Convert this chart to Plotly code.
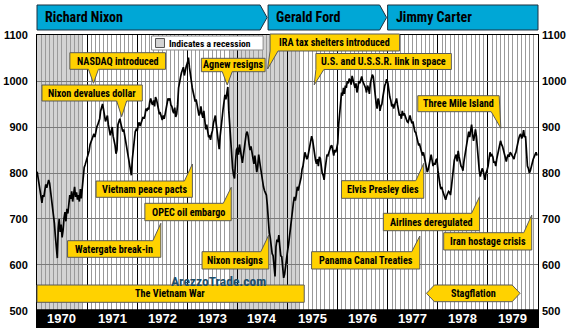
import plotly.graph_objects as go
import pandas as pd

# ---------------- data ----------------
years = list(range(1970, 1980))
dow_1970 = [803, 790, 772, 758, 744, 735, 752, 748, 762, 775, 768, 782, 785, 778, 760, 748, 735,
            712, 690, 662, 640, 615, 680, 700, 672, 688, 660, 675, 702, 715, 695, 722, 712, 740,
            752, 744, 760, 738, 755, 770, 748, 758, 742, 752, 738, 765, 745, 775, 805, 812, 818, 825]
dow_1971 = [830, 838, 848, 862, 868, 872, 880, 885, 878, 892, 900, 905, 912, 918, 935, 945, 950,
            938, 925, 912, 918, 925, 905, 895, 882, 890, 900, 880, 872, 860, 842, 850, 905, 912,
            918, 908, 898, 890, 895, 882, 870, 858, 845, 835, 818, 800, 795, 830, 855, 872, 890, 895]
dow_1972 = [892, 905, 910, 902, 908, 915, 922, 918, 925, 940, 935, 942, 938, 955, 962, 952, 948,
            958, 945, 965, 960, 950, 935, 928, 930, 922, 915, 925, 918, 928, 940, 955, 962, 958,
            962, 948, 945, 935, 930, 942, 922, 928, 948, 985, 1000, 1008, 1018, 1025, 1030, 1012, 1025, 1032]
dow_1973 = [1040, 1051, 1030, 1012, 998, 985, 975, 962, 955, 960, 948, 940, 925, 930, 945, 928, 920,
            935, 912, 895, 905, 890, 878, 880, 872, 885, 892, 908, 918, 925, 905, 888, 862, 852,
            880, 895, 918, 938, 955, 970, 960, 978, 987, 935, 900, 868, 845, 810, 795, 788, 825, 850]
dow_1974 = [855, 840, 862, 850, 830, 822, 838, 855, 870, 885, 890, 880, 862, 850, 858, 845, 835,
            820, 838, 815, 802, 815, 840, 825, 808, 795, 785, 770, 762, 758, 752, 730, 690, 670,
            660, 640, 625, 620, 585, 575, 640, 655, 650, 665, 640, 620, 618, 590, 572, 580, 600, 616]
dow_1975 = [632, 645, 665, 690, 703, 715, 735, 748, 740, 752, 770, 762, 770, 780, 790, 808, 815,
            830, 845, 838, 830, 835, 845, 862, 870, 880, 872, 858, 835, 828, 820, 830, 815, 835,
            832, 815, 800, 795, 785, 808, 830, 840, 838, 845, 852, 858, 860, 845, 838, 850, 845, 852]
dow_1976 = [865, 905, 935, 960, 975, 968, 985, 972, 990, 985, 1000, 995, 1005, 1002, 992, 1011, 1000,
            990, 985, 995, 975, 985, 1000, 995, 1005, 1010, 1000, 995, 990, 985, 975, 990, 985, 972,
            995, 1005, 1014, 1010, 985, 960, 952, 940, 962, 955, 935, 945, 950, 965, 985, 990, 995, 1004]
dow_1977 = [995, 975, 965, 958, 945, 950, 940, 948, 955, 962, 948, 935, 925, 928, 918, 935, 925,
            930, 922, 915, 912, 910, 918, 925, 915, 908, 912, 900, 890, 888, 878, 870, 860, 862,
            855, 845, 838, 845, 835, 822, 812, 802, 808, 818, 830, 840, 828, 815, 822, 818, 828, 831]
dow_1978 = [805, 785, 775, 765, 770, 760, 752, 745, 742, 750, 755, 760, 758, 752, 770, 795, 812,
            828, 835, 840, 825, 848, 835, 820, 815, 812, 805, 825, 840, 850, 870, 885, 890, 878,
            900, 905, 885, 870, 880, 895, 880, 850, 820, 805, 792, 800, 810, 805, 795, 785, 800, 805]
dow_1979 = [815, 830, 845, 838, 840, 835, 822, 825, 815, 830, 845, 850, 860, 870, 862, 858, 850,
            840, 830, 825, 835, 840, 835, 845, 842, 838, 835, 830, 840, 845, 855, 870, 875, 882,
            885, 875, 880, 893, 878, 880, 850, 815, 810, 800, 805, 815, 822, 830, 835, 842, 845, 838]
dow_by_year = [dow_1970, dow_1971, dow_1972, dow_1973, dow_1974,
               dow_1975, dow_1976, dow_1977, dow_1978, dow_1979]

recession_starts = ["1969-12-01", "1973-11-01"]
recession_ends = ["1970-11-30", "1975-03-31"]

presidents = ["Richard Nixon", "Gerald Ford", "Jimmy Carter"]
year_labels = [str(y) for y in years]
y_ticks = [500, 600, 700, 800, 900, 1000, 1100]

events = ["NASDAQ introduced", "Nixon devalues dollar", "Agnew resigns",
          "IRA tax shelters introduced", "U.S. and U.S.S.R. link in space",
          "Three Mile Island", "Vietnam peace pacts", "OPEC oil embargo",
          "Watergate break-in", "Nixon resigns", "Elvis Presley dies",
          "Airlines deregulated", "Iran hostage crisis", "Panama Canal Treaties"]

# ---------------- layout geometry (pixels) ----------------
W, H = 583, 330
L, R, T, B = 35, 538, 35, 327
YMIN, YMAX = 465.2, 1100

def P(x, y):
    return f"{(x - L) / (R - L):.5f},{(B - y) / (B - T):.5f}"

def poly(pts):
    return "M" + " L".join(P(x, y) for x, y in pts) + " Z"

def fx(x):
    return (x - L) / (R - L)

def fy(y):
    return (B - y) / (B - T)

# event boxes: (x0, y0, x1, y1, tail kind, tip x, tip y)
event_boxes = [
    (68, 52.7, 164, 69.3, "bottom", 91.7, 83.3),
    (40, 85, 140.7, 101, "bottom", 120, 116.7),
    (200, 58.3, 264, 71.7, "bottom", 226, 85),
    (269, 34, 399, 51, "bl", 266.5, 69),
    (315, 53.5, 451, 69.5, "bl", 313.3, 85),
    (417.3, 95.7, 499, 111.7, "br", 500.7, 128.3),
    (94.3, 181, 191, 197.3, "tr", 191, 164),
    (143.3, 203.3, 230, 220.7, "tr", 230, 187.3),
    (65.7, 240.7, 159.3, 257.3, "tr", 159.3, 223.3),
    (200.7, 251.7, 267.7, 269, "tr", 267.7, 235),
    (340.7, 180.7, 423.3, 198.3, "tr", 423.3, 163.3),
    (382.7, 213.3, 479.3, 230.7, "tr", 479.3, 196.7),
    (443.3, 232.7, 531.7, 250, "tr", 531.7, 215),
    (310.7, 251.7, 419.3, 269, "tr", 419.3, 236),
]

YELLOW = "#FFD200"
EDGE = "#5a5a5a"
NARROW = "Roboto Condensed, Liberation Sans Narrow, Roboto, sans-serif"
LBL = 10.2

# ---------------- figure ----------------
dates, vals = [], []
for y, v in zip(years, dow_by_year):
    d = pd.date_range(f"{y}-01-02", periods=len(v), freq="7D")
    dates += list(d)
    vals += v

fig = go.Figure()
fig.add_trace(go.Scatter(x=dates, y=vals, mode="lines",
                         line=dict(color="black", width=1.7), hoverinfo="skip"))
fig.add_trace(go.Scatter(x=[dates[0]], y=[vals[0]], yaxis="y2", mode="markers",
                         marker=dict(opacity=0), hoverinfo="skip"))

shapes = []
for s, e in zip(recession_starts, recession_ends):
    shapes.append(dict(type="rect", xref="x", yref="paper", x0=s, x1=e, y0=0, y1=1,
                       fillcolor="#d3d3d3", line=dict(width=0), layer="below"))

# bottom black band
shapes.append(dict(type="rect", xref="paper", yref="y", x0=0, x1=1, y0=YMIN, y1=504,
                   fillcolor="black", line=dict(width=0), layer="above"))

# president banners
ban = [
    [(35, 5), (259, 5), (266, 17.5), (259, 30), (35, 30)],
    [(267, 5), (379, 5), (386, 17.5), (379, 30), (267, 30)],
    [(387, 5), (538, 5), (538, 30), (387, 30)],
]
for pts in ban:
    shapes.append(dict(type="path", xref="paper", yref="paper", path=poly(pts),
                       fillcolor="#00A7D6", line=dict(color="#1d3140", width=1), layer="above"))

# legend box
shapes.append(dict(type="rect", xref="paper", yref="paper", x0=fx(150), x1=fx(262),
                   y0=fy(50), y1=fy(36), fillcolor="white", line=dict(color="#8a8a8a", width=1),
                   layer="above"))
shapes.append(dict(type="rect", xref="paper", yref="paper", x0=fx(154), x1=fx(163),
                   y0=fy(47.5), y1=fy(38.5), fillcolor="#d3d3d3", line=dict(color="#555", width=1),
                   layer="above"))

# event boxes with tails
for (x0, y0, x1, y1, kind, tx, ty) in event_boxes:
    if kind == "bottom":
        pts = [(x0, y0), (x1, y0), (x1, y1), (tx + 5, y1), (tx, ty), (tx - 5, y1), (x0, y1)]
    elif kind == "tr":
        pts = [(x0, y0), (x1 - 8, y0), (tx, ty), (x1, y1), (x0, y1)]
    elif kind == "bl":
        pts = [(x0, y0), (x1, y0), (x1, y1), (x0 + 8, y1), (tx, ty), (x0, y1)]
    else:  # br
        pts = [(x0, y0), (x1, y0), (tx, ty), (x1 - 8, y1), (x0, y1)]
    shapes.append(dict(type="path", xref="paper", yref="paper", path=poly(pts),
                       fillcolor=YELLOW, line=dict(color=EDGE, width=1), layer="above"))

# Vietnam war bar
shapes.append(dict(type="rect", xref="paper", yref="paper", x0=fx(35), x1=fx(303.3),
                   y0=fy(302.3), y1=fy(285), fillcolor=YELLOW, line=dict(color=EDGE, width=1),
                   layer="above"))
# Stagflation double arrow
shapes.append(dict(type="path", xref="paper", yref="paper",
                   path=poly([(426, 293.3), (434, 285), (512, 285), (520, 293.3), (512, 301.7), (434, 301.7)]),
                   fillcolor=YELLOW, line=dict(color=EDGE, width=1), layer="above"))

annotations = []
ban_text_x = [41, 273, 393]
for name, x in zip(presidents, ban_text_x):
    annotations.append(dict(xref="paper", yref="paper", x=fx(x), y=fy(17.5), text=name,
                            xanchor="left", yanchor="middle", showarrow=False,
                            font=dict(family=NARROW, size=14, color="black", weight="bold")))
for lab, y in zip(year_labels, years):
    annotations.append(dict(xref="x", yref="y", x=f"{y}-07-02", y=484, text=lab,
                            xanchor="center", yanchor="middle", showarrow=False,
                            font=dict(family="Liberation Sans, Arial, sans-serif", size=13,
                                      color="white", weight="bold")))
for txt, (x0, y0, x1, y1, kind, tx, ty) in zip(events, event_boxes):
    annotations.append(dict(xref="paper", yref="paper", x=fx((x0 + x1) / 2), y=fy((y0 + y1) / 2),
                            text=txt, xanchor="center", yanchor="middle", showarrow=False,
                            font=dict(family=NARROW, size=LBL, color="black", weight="bold")))
annotations.append(dict(xref="paper", yref="paper", x=fx(166), y=fy(43), text="Indicates a recession",
                        xanchor="left", yanchor="middle", showarrow=False,
                        font=dict(family=NARROW, size=9.6, color="black", weight="bold")))
annotations.append(dict(xref="paper", yref="paper", x=fx(169), y=fy(293.6), text="The Vietnam War",
                        xanchor="center", yanchor="middle", showarrow=False,
                        font=dict(family=NARROW, size=LBL, color="black", weight="bold")))
annotations.append(dict(xref="paper", yref="paper", x=fx(473), y=fy(293.3), text="Stagflation",
                        xanchor="center", yanchor="middle", showarrow=False,
                        font=dict(family=NARROW, size=LBL, color="black", weight="bold")))
annotations.append(dict(xref="paper", yref="paper", x=fx(217), y=fy(280.5), text="ArezzoTrade.com",
                        xanchor="center", yanchor="middle", showarrow=False,
                        font=dict(family=NARROW, size=13.5, color="#1d4f6b", weight="bold")))

tick_font = dict(family="Liberation Sans, Arial, sans-serif", size=11, color="black", weight="bold")
fig.update_layout(
    width=W, height=H, autosize=False,
    margin=dict(l=L, r=W - R, t=T, b=H - B, pad=0),
    paper_bgcolor="white", plot_bgcolor="white",
    showlegend=False,
    xaxis=dict(type="date", range=["1970-01-01", "1980-01-01"], showticklabels=False,
               showgrid=True, gridcolor="black", gridwidth=1, dtick="M12", tick0="1970-01-01",
               ticks="", minor=dict(showgrid=True, gridcolor="#9a9a9a", gridwidth=1, dtick="M1",
                                    tick0="1970-01-01"),
               showline=True, linecolor="black", linewidth=1, mirror=True, zeroline=False),
    yaxis=dict(range=[YMIN, YMAX], tickvals=y_ticks, ticktext=[str(v) for v in y_ticks],
               showgrid=True, gridcolor="#7a7a7a", gridwidth=1, ticks="", tickfont=tick_font,
               ticklabelstandoff=6, showline=True, linecolor="black", linewidth=1, mirror=True,
               zeroline=False),
    yaxis2=dict(range=[YMIN, YMAX], tickvals=y_ticks, ticktext=[str(v) for v in y_ticks],
                overlaying="y", side="right", showgrid=False, ticks="", tickfont=tick_font,
                ticklabelstandoff=3, zeroline=False, showline=False),
    shapes=shapes, annotations=annotations,
)
fig.write_html("out.html")
